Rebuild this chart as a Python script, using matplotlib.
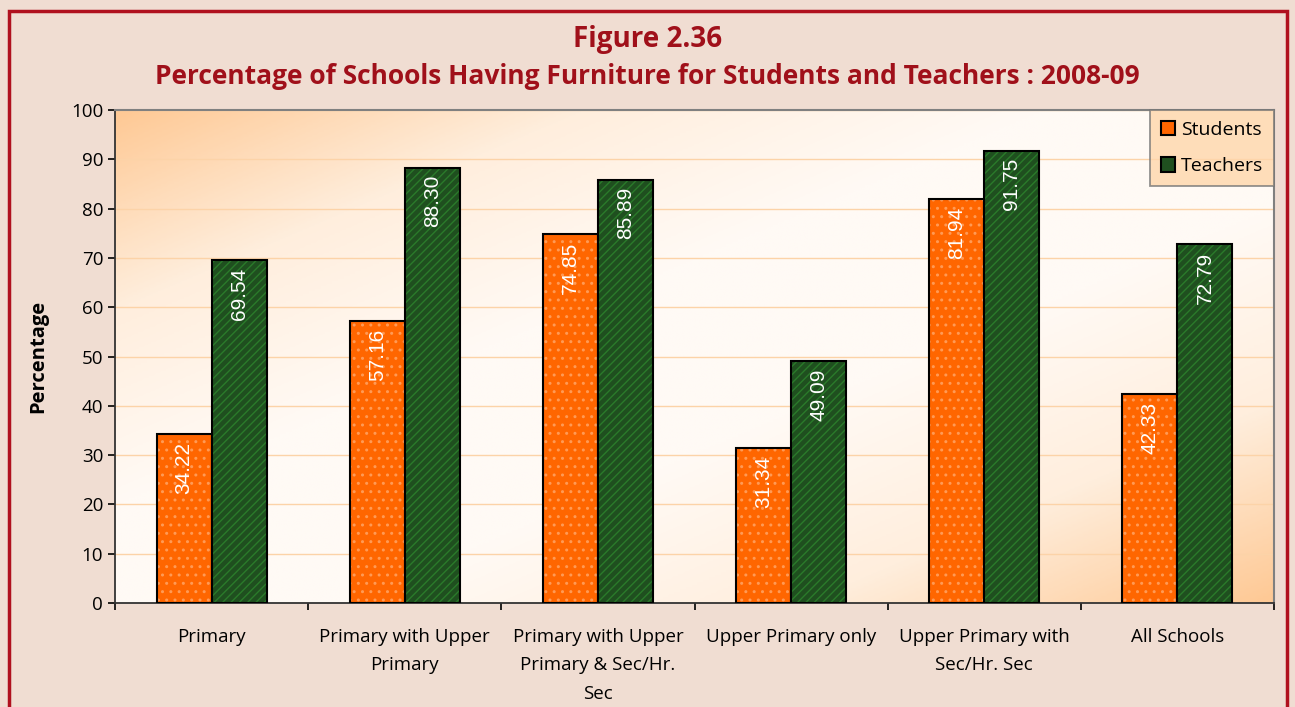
import matplotlib.pyplot as plt
import numpy as np
from matplotlib.patches import Rectangle
from matplotlib.colors import LinearSegmentedColormap

categories = [
    "Primary",
    "Primary with Upper\nPrimary",
    "Primary with Upper\nPrimary & Sec/Hr.\nSec",
    "Upper Primary only",
    "Upper Primary with\nSec/Hr. Sec",
    "All Schools",
]
students = [34.22, 57.16, 74.85, 31.34, 81.94, 42.33]
teachers = [69.54, 88.30, 85.89, 49.09, 91.75, 72.79]
yticks = list(range(0, 101, 10))

plt.rcParams["font.family"] = ["Open Sans", "DejaVu Sans"]

fig = plt.figure(figsize=(12.95, 7.07), dpi=100)
fig.patch.set_facecolor("#f0ddd2")
fig.patches.append(Rectangle((9 / 1295, -0.05), 1278 / 1295, 1.05 - 11 / 707,
                             transform=fig.transFigure, fill=False,
                             edgecolor="#b0101e", linewidth=2.5))

ax = fig.add_axes([115 / 1295, 1 - 603 / 707, (1274 - 115) / 1295, (603 - 110) / 707])

# diagonal wash: orange in the top-left and bottom-right corners, pale in between
yy, xx = np.mgrid[0:1:200j, 0:1:200j]
d = (xx + yy) / 2
wash = LinearSegmentedColormap.from_list(
    "wash", ["#fec995", "#ffeedd", "#fffaf5", "#fffaf5", "#ffeedd", "#fec995"])
ax.imshow(d, cmap=wash, extent=[0, 1, 0, 1], transform=ax.transAxes,
          aspect="auto", zorder=0, origin="upper")

x = np.arange(len(categories))
w = 0.285

# fill, texture, then black outline on top
ax.bar(x - w / 2, students, w, color="#ff6600", linewidth=0, zorder=3)
ax.bar(x - w / 2, students, w, color="none", edgecolor="#ff9a55", hatch="..", linewidth=0, zorder=3)
sb = ax.bar(x - w / 2, students, w, color="none", edgecolor="black", linewidth=1.5, zorder=3)
ax.bar(x + w / 2, teachers, w, color="#1f4f1f", linewidth=0, zorder=3)
ax.bar(x + w / 2, teachers, w, color="none", edgecolor="#2a7a2a", hatch="////", linewidth=0, zorder=3)
tb = ax.bar(x + w / 2, teachers, w, color="none", edgecolor="black", linewidth=1.5, zorder=3)

for bars, vals in ((sb, students), (tb, teachers)):
    for b, v in zip(bars, vals):
        ax.text(b.get_x() + b.get_width() / 2, v - 1.5, f"{v:.2f}", rotation=90,
                ha="center", va="top", color="white", fontsize=15,
                family="Liberation Sans", zorder=4)

ax.set_xlim(-0.5, len(categories) - 0.5)
ax.set_ylim(0, 100)
ax.set_yticks(yticks)
ax.yaxis.grid(True, color="#fcd3a8", linewidth=1, zorder=1)
ax.set_axisbelow(True)
ax.set_xticks(x)
ax.set_xticklabels(categories, fontsize=13.5, linespacing=1.75)
ax.set_xticks(np.arange(len(categories) + 1) - 0.5, minor=True)
ax.tick_params(axis="x", which="major", length=0, pad=18)
ax.tick_params(axis="x", which="minor", length=5, width=1.2)
ax.tick_params(axis="y", labelsize=13.5, length=5, width=1.2)
for s in ("left", "bottom"):
    ax.spines[s].set_color("#333333")
    ax.spines[s].set_linewidth(1.3)
for s in ("top", "right"):
    ax.spines[s].set_color("#808080")
    ax.spines[s].set_linewidth(1.5)

ax.set_ylabel("Percentage", fontsize=14.5, fontweight="bold", labelpad=16)

proxy_s = Rectangle((0, 0), 1, 1, facecolor="#ff6600", edgecolor="black", linewidth=1.5)
proxy_t = Rectangle((0, 0), 1, 1, facecolor="#1f4f1f", edgecolor="black", linewidth=1.5)
leg = ax.legend([proxy_s, proxy_t], ["Students", "Teachers"], loc="upper right",
                fontsize=14, frameon=True, fancybox=False, borderaxespad=0,
                handlelength=0.75, handleheight=0.75, labelspacing=0.95,
                handletextpad=0.3, borderpad=0.55)
leg.get_frame().set_facecolor("#fed6ab")
leg.get_frame().set_edgecolor("#777777")
leg.get_frame().set_linewidth(1.3)

fig.text(0.5, 1 - 40 / 707, "Figure 2.36", ha="center", va="center",
         fontsize=20, fontweight="bold", color="#a0101a")
fig.text(0.5, 1 - 76 / 707,
         "Percentage of Schools Having Furniture for Students and Teachers : 2008-09",
         ha="center", va="center", fontsize=19, fontweight="bold", color="#a0101a")

fig.savefig("out.png", dpi=100, facecolor=fig.get_facecolor())
